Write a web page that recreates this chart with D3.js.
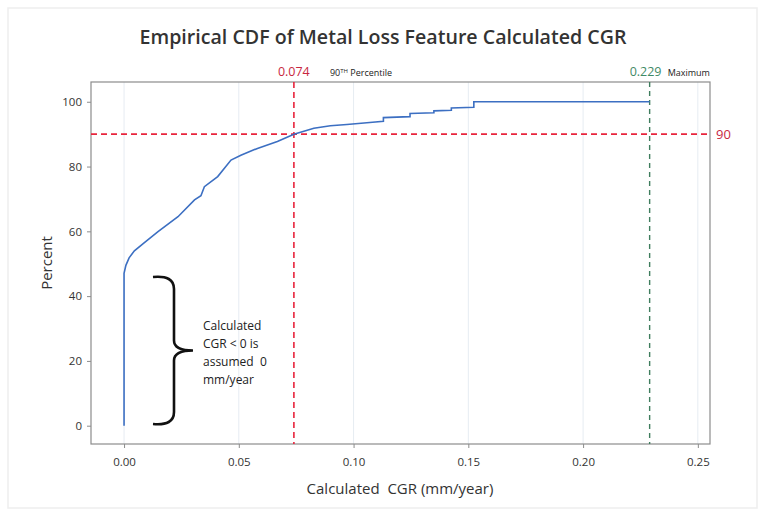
<!DOCTYPE html>
<html><head><meta charset="utf-8">
<script src="https://cdn.jsdelivr.net/npm/d3@7"></script>
<style>body{margin:0;background:#fff}svg{display:block}text{white-space:pre}</style>
</head><body>
<script>
// ---- data ----
const cgrValues = [0, 0, 0.0008, 0.0022, 0.0045, 0.009, 0.0148, 0.0235, 0.0307, 0.0335, 0.035, 0.0408, 0.0466, 0.0509, 0.0581, 0.0668, 0.074, 0.0827, 0.0899, 0.0971, 0.1058, 0.113, 0.113, 0.1246, 0.1246, 0.135, 0.135, 0.1426, 0.1426, 0.1524, 0.1524, 0.229];
const percentValues = [0, 47, 49.5, 51.8, 54, 56.6, 59.9, 64.5, 69.7, 71, 73.8, 76.9, 82, 83.5, 85.6, 87.7, 90, 91.8, 92.6, 93, 93.5, 94, 95.1, 95.4, 96.4, 96.6, 97.2, 97.4, 98.1, 98.3, 100, 100];
const xTicks = [0, 0.05, 0.10, 0.15, 0.20, 0.25];
const yTicks = [0, 20, 40, 60, 80, 100];
const percentile90 = 0.074;
const maximumCGR = 0.229;
const refPercent = 90;
const titleText = "Empirical CDF of Metal Loss Feature Calculated CGR";
const xLabel = "Calculated  CGR (mm/year)";
const yLabel = "Percent";
const noteLines = ["Calculated", "CGR < 0 is", "assumed  0", "mm/year"];

// ---- chart ----
const W = 765, H = 510;
const svg = d3.select("body").append("svg").attr("width", W).attr("height", H)
  .style("font-family", "'Open Sans', sans-serif");
const L = 91, R = 710, T = 82, B = 444;
const x = d3.scaleLinear().domain([-0.0144, 0.2553]).range([L, R]);
const y = d3.scaleLinear().domain([-5.65, 106.1]).range([B, T]);

// faint outer border
svg.append("rect").attr("x", 8).attr("y", 8).attr("width", W - 16).attr("height", H - 10)
  .attr("fill", "none").attr("stroke", "#eeeeee").attr("stroke-width", 1.5);

// gridlines
svg.append("g").selectAll("line").data(xTicks).join("line")
  .attr("x1", d => x(d)).attr("x2", d => x(d)).attr("y1", T).attr("y2", B)
  .attr("stroke", "#e6ecf2").attr("stroke-width", 1);

// frame
svg.append("rect").attr("x", L).attr("y", T).attr("width", R - L).attr("height", B - T)
  .attr("fill", "none").attr("stroke", "#8c8c8c").attr("stroke-width", 1.2);

// axes
const xAxis = svg.append("g").attr("transform", `translate(0,${B})`)
  .call(d3.axisBottom(x).tickValues(xTicks).tickFormat(d3.format(".2f")).tickSize(4).tickPadding(10));
const yAxis = svg.append("g").attr("transform", `translate(${L},0)`)
  .call(d3.axisLeft(y).tickValues(yTicks).tickSize(4).tickPadding(5));
[xAxis, yAxis].forEach(a => {
  a.select(".domain").remove();
  a.selectAll(".tick line").attr("stroke", "#8c8c8c");
  a.selectAll(".tick text").attr("fill", "#333").style("font-size", "11.5px").style("font-family", "'Open Sans', sans-serif");
});

// reference lines
svg.append("line").attr("x1", L).attr("x2", R).attr("y1", y(refPercent)).attr("y2", y(refPercent))
  .attr("stroke", "#e8243c").attr("stroke-width", 1.6).attr("stroke-dasharray", "6,4");
svg.append("line").attr("x1", x(percentile90)).attr("x2", x(percentile90)).attr("y1", T).attr("y2", B)
  .attr("stroke", "#e8243c").attr("stroke-width", 1.6).attr("stroke-dasharray", "6,4");
svg.append("line").attr("x1", x(maximumCGR)).attr("x2", x(maximumCGR)).attr("y1", T).attr("y2", B)
  .attr("stroke", "#3f7d5e").attr("stroke-width", 1.4).attr("stroke-dasharray", "5,4");

// CDF line
const line = d3.line().x(d => x(d[0])).y(d => y(d[1]));
svg.append("path").datum(cgrValues.map((c, i) => [c, percentValues[i]]))
  .attr("d", line).attr("fill", "none").attr("stroke", "#3c6fc2").attr("stroke-width", 1.6);

// labels on reference lines
svg.append("text").attr("x", x(percentile90) - 16).attr("y", 76).attr("fill", "#c8283f")
  .style("font-size", "12.5px").text("0.074");
const pt = svg.append("text").attr("x", x(percentile90) + 36).attr("y", 76).attr("fill", "#222")
  .style("font-size", "9px");
pt.append("tspan").text("90");
pt.append("tspan").attr("dy", -3).style("font-size", "6px").text("TH");
pt.append("tspan").attr("dy", 3).text(" Percentile");
svg.append("text").attr("x", x(maximumCGR) - 20).attr("y", 76).attr("fill", "#3f8a66")
  .style("font-size", "12.5px").text("0.229");
svg.append("text").attr("x", x(maximumCGR) + 18).attr("y", 76).attr("fill", "#222")
  .style("font-size", "9px").text("Maximum");
svg.append("text").attr("x", R + 6).attr("y", y(refPercent) + 5).attr("fill", "#c8283f")
  .style("font-size", "13px").text("90");

// brace
const bx = 153, by0 = 277, by1 = 424, bmid = (by0 + by1) / 2, bv = 174, btip = 193;
svg.append("path")
  .attr("d", `M${bx},${by0} Q${bv},${by0 - 2} ${bv},${by0 + 12} L${bv},${bmid - 10} Q${bv},${bmid} ${btip},${bmid} Q${bv},${bmid} ${bv},${bmid + 10} L${bv},${by1 - 12} Q${bv},${by1 + 2} ${bx},${by1}`)
  .attr("fill", "none").attr("stroke", "#111").attr("stroke-width", 2.6);

svg.append("g").selectAll("text").data(noteLines).join("text")
  .attr("x", 203).attr("y", (d, i) => 330 + i * 18)
  .attr("fill", "#222").style("font-size", "12px").text(d => d);

// titles
svg.append("text").attr("x", 383).attr("y", 44).attr("text-anchor", "middle")
  .attr("fill", "#333").style("font-size", "19.6px").style("font-weight", "600").text(titleText);
svg.append("text").attr("x", 400).attr("y", 494).attr("text-anchor", "middle")
  .attr("fill", "#333").style("font-size", "15px").text(xLabel);
svg.append("text").attr("transform", `translate(52,${(T + B) / 2}) rotate(-90)`).attr("text-anchor", "middle")
  .attr("fill", "#333").style("font-size", "15px").text(yLabel);
</script>
</body></html>
